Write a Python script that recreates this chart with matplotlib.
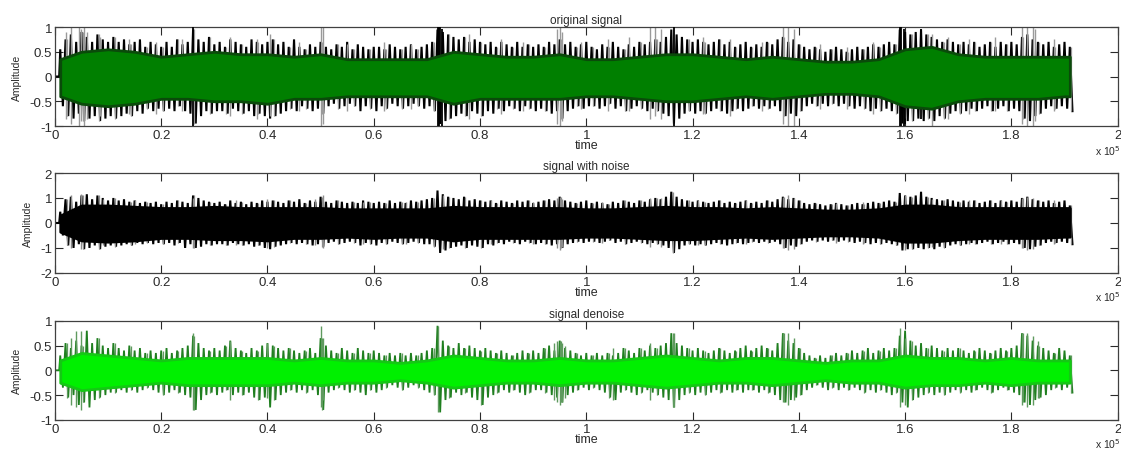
import numpy as np
import matplotlib
matplotlib.use('Agg')
import matplotlib.pyplot as plt
from matplotlib.ticker import FuncFormatter

plt.rcParams['font.family'] = ['Liberation Sans', 'DejaVu Sans']

# ---------------- data (time axis in units of 1e5 samples) ----------------
# peak envelope read every 0.01 (x1e5) from 0.01 to 1.91
peak_t = np.round(np.arange(1, 192) * 0.01, 2)

orig_peak_hi = [
    0.55, 0.75, 0.85, 0.7, 0.9, 0.8, 0.7, 0.85, 0.75, 0.7,
    0.8, 0.7, 0.75, 0.65, 0.7, 0.75, 0.6, 0.7, 0.65, 0.6,
    0.7, 0.6, 0.75, 0.65, 0.7, 0.95, 0.75, 0.7, 0.8, 0.65,
    0.7, 0.6, 0.75, 0.7, 0.65, 0.6, 0.75, 0.7, 0.65, 0.7,
    0.75, 0.65, 0.7, 0.6, 0.75, 0.6, 0.55, 0.65, 0.6, 0.7,
    0.6, 0.55, 0.65, 0.6, 0.7, 0.55, 0.65, 0.6, 0.55, 0.6,
    0.6, 0.55, 0.65, 0.6, 0.55, 0.6, 0.65, 0.55, 0.6, 0.65,
    0.7, 0.95, 0.9, 0.85, 0.8, 0.75, 0.8, 0.7, 0.75, 0.7,
    0.65, 0.7, 0.6, 0.7, 0.65, 0.6, 0.7, 0.6, 0.65, 0.6,
    0.65, 0.6, 0.7, 0.65, 0.75, 0.65, 0.7, 0.6, 0.65, 0.7,
    0.6, 0.55, 0.65, 0.6, 0.7, 0.6, 0.55, 0.65, 0.6, 0.7,
    0.65, 0.7, 0.75, 0.7, 0.8, 0.95, 0.85, 0.8, 0.75, 0.7,
    0.75, 0.7, 0.65, 0.7, 0.75, 0.65, 0.7, 0.6, 0.65, 0.7,
    0.6, 0.65, 0.6, 0.7, 0.65, 0.75, 0.8, 0.7, 0.75, 0.65,
    0.6, 0.55, 0.6, 0.55, 0.5, 0.55, 0.6, 0.55, 0.5, 0.55,
    0.6, 0.55, 0.6, 0.65, 0.6, 0.65, 0.7, 0.65, 0.95, 0.9,
    0.85, 0.9, 0.95, 0.85, 0.8, 0.75, 0.7, 0.75, 0.7, 0.65,
    0.7, 0.65, 0.7, 0.6, 0.65, 0.7, 0.6, 0.7, 0.65, 0.7,
    0.65, 0.8, 0.85, 0.75, 0.7, 0.65, 0.7, 0.6, 0.65, 0.7, 0.6]
orig_peak_lo = [
    -0.6, -0.8, -0.85, -0.75, -0.9, -0.85, -0.8, -0.9, -0.85, -0.8,
    -0.85, -0.8, -0.75, -0.8, -0.7, -0.75, -0.65, -0.7, -0.65, -0.7,
    -0.65, -0.7, -0.6, -0.7, -0.75, -0.95, -0.8, -0.7, -0.75, -0.7,
    -0.7, -0.75, -0.65, -0.7, -0.75, -0.7, -0.8, -0.75, -0.8, -0.85,
    -0.8, -0.75, -0.7, -0.65, -0.7, -0.6, -0.65, -0.7, -0.65, -0.75,
    -0.6, -0.55, -0.65, -0.6, -0.55, -0.6, -0.7, -0.6, -0.65, -0.7,
    -0.6, -0.65, -0.55, -0.6, -0.65, -0.6, -0.55, -0.6, -0.65, -0.6,
    -0.7, -0.95, -0.9, -0.85, -0.8, -0.75, -0.8, -0.7, -0.75, -0.8,
    -0.7, -0.75, -0.65, -0.7, -0.6, -0.65, -0.7, -0.6, -0.65, -0.7,
    -0.65, -0.7, -0.75, -0.7, -0.85, -0.7, -0.65, -0.6, -0.65, -0.6,
    -0.6, -0.65, -0.6, -0.55, -0.65, -0.6, -0.7, -0.65, -0.6, -0.65,
    -0.7, -0.65, -0.7, -0.75, -0.8, -0.95, -0.85, -0.75, -0.7, -0.75,
    -0.7, -0.75, -0.7, -0.65, -0.7, -0.75, -0.7, -0.65, -0.7, -0.65,
    -0.6, -0.65, -0.6, -0.65, -0.6, -0.7, -0.8, -0.75, -0.8, -0.7,
    -0.6, -0.55, -0.6, -0.55, -0.6, -0.55, -0.6, -0.55, -0.6, -0.65,
    -0.6, -0.65, -0.7, -0.65, -0.7, -0.65, -0.7, -0.75, -0.95, -0.9,
    -0.9, -0.85, -0.9, -0.85, -0.9, -0.8, -0.85, -0.75, -0.7, -0.75,
    -0.7, -0.65, -0.7, -0.65, -0.6, -0.7, -0.65, -0.6, -0.7, -0.65,
    -0.7, -0.85, -0.9, -0.8, -0.75, -0.65, -0.6, -0.65, -0.6, -0.65, -0.7]

noisy_peak_hi = [
    0.45, 0.95, 1.05, 0.85, 1.1, 1.15, 0.95, 1.1, 1.0, 0.9,
    1.0, 0.9, 0.95, 0.85, 0.9, 0.8, 0.85, 0.8, 0.85, 0.75,
    0.85, 0.8, 0.9, 0.85, 0.8, 1.1, 1.0, 0.9, 0.85, 0.8,
    0.85, 0.75, 0.9, 0.8, 0.85, 0.75, 0.85, 0.8, 0.9, 0.85,
    0.9, 0.85, 0.8, 0.9, 0.85, 0.95, 0.8, 0.9, 0.85, 1.05,
    0.85, 0.8, 0.9, 0.85, 0.8, 0.85, 0.8, 0.9, 0.85, 0.8,
    0.85, 0.8, 0.9, 0.8, 0.85, 0.8, 0.9, 0.85, 0.9, 0.95,
    1.0, 1.3, 1.15, 1.05, 1.0, 0.95, 1.05, 0.9, 0.95, 0.9,
    0.85, 0.9, 0.8, 0.9, 0.85, 0.8, 0.9, 0.85, 0.9, 0.8,
    0.85, 0.9, 0.95, 0.9, 1.05, 0.9, 0.85, 0.8, 0.85, 0.9,
    0.8, 0.85, 0.8, 0.75, 0.85, 0.8, 0.9, 0.85, 0.8, 0.9,
    0.85, 0.95, 1.0, 0.95, 1.05, 1.25, 1.05, 0.95, 0.9, 0.85,
    0.9, 0.85, 0.8, 0.85, 0.9, 0.8, 0.85, 0.8, 0.85, 0.9,
    0.8, 0.85, 0.8, 0.9, 0.85, 0.95, 1.05, 0.95, 1.0, 0.9,
    0.8, 0.75, 0.8, 0.75, 0.7, 0.75, 0.8, 0.75, 0.7, 0.75,
    0.8, 0.75, 0.8, 0.85, 0.8, 0.85, 0.9, 0.85, 1.2, 1.1,
    1.05, 1.1, 1.25, 1.05, 1.0, 0.95, 0.9, 0.95, 0.9, 0.85,
    0.9, 0.85, 0.9, 0.8, 0.85, 0.9, 0.8, 0.9, 0.85, 0.9,
    0.85, 1.0, 1.05, 0.95, 0.9, 0.85, 0.9, 0.8, 0.85, 0.9, 0.7]
noisy_peak_lo = [
    -0.5, -0.9, -1.0, -0.85, -1.05, -1.0, -0.9, -1.05, -0.95, -0.9,
    -0.95, -0.9, -0.85, -0.9, -0.8, -0.85, -0.8, -0.85, -0.8, -0.85,
    -0.8, -0.9, -0.8, -1.0, -0.85, -1.0, -0.95, -0.85, -0.9, -0.85,
    -0.85, -0.9, -0.8, -0.85, -0.9, -0.85, -0.95, -0.9, -1.0, -1.05,
    -0.95, -0.9, -0.85, -0.8, -0.85, -0.8, -0.85, -0.9, -0.85, -0.95,
    -0.8, -0.75, -0.85, -0.8, -0.75, -0.8, -0.9, -0.8, -0.85, -0.9,
    -0.8, -0.85, -0.75, -0.8, -0.85, -0.8, -0.75, -0.8, -0.85, -0.85,
    -0.95, -1.2, -1.1, -1.0, -0.95, -0.9, -1.0, -0.9, -0.95, -1.0,
    -0.85, -0.9, -0.8, -0.85, -0.75, -0.8, -0.85, -0.75, -0.8, -0.85,
    -0.8, -0.85, -0.9, -0.85, -1.0, -0.85, -0.8, -0.75, -0.8, -0.75,
    -0.75, -0.8, -0.75, -0.7, -0.8, -0.75, -0.85, -0.8, -0.75, -0.8,
    -0.85, -0.8, -0.85, -0.9, -1.0, -1.2, -1.05, -0.9, -0.85, -0.9,
    -0.85, -0.9, -0.85, -0.8, -0.85, -0.9, -0.85, -0.8, -0.85, -0.8,
    -0.75, -0.8, -0.75, -0.8, -0.75, -0.85, -1.0, -0.9, -0.95, -0.85,
    -0.75, -0.7, -0.75, -0.7, -0.75, -0.7, -0.75, -0.7, -0.75, -0.8,
    -0.75, -0.8, -0.85, -0.8, -0.85, -0.8, -0.85, -0.9, -1.1, -1.05,
    -1.05, -1.0, -1.05, -1.0, -1.05, -0.95, -1.0, -0.9, -0.85, -0.9,
    -0.85, -0.8, -0.85, -0.8, -0.75, -0.85, -0.8, -0.75, -0.85, -0.8,
    -0.85, -1.0, -1.05, -0.95, -0.9, -0.8, -0.75, -0.8, -0.75, -0.8, -0.85]

den_peak_hi = [
    0.3, 0.55, 0.45, 0.6, 0.5, 0.8, 0.55, 0.65, 0.5, 0.45,
    0.55, 0.45, 0.4, 0.5, 0.4, 0.45, 0.35, 0.4, 0.35, 0.4,
    0.45, 0.35, 0.4, 0.45, 0.5, 0.7, 0.55, 0.45, 0.4, 0.45,
    0.4, 0.5, 0.6, 0.45, 0.4, 0.35, 0.45, 0.4, 0.5, 0.55,
    0.5, 0.45, 0.4, 0.45, 0.4, 0.35, 0.4, 0.45, 0.35, 0.65,
    0.5, 0.4, 0.35, 0.45, 0.4, 0.35, 0.45, 0.4, 0.35, 0.4,
    0.35, 0.3, 0.35, 0.3, 0.35, 0.3, 0.35, 0.3, 0.35, 0.4,
    0.45, 0.9, 0.6, 0.5, 0.45, 0.55, 0.45, 0.5, 0.45, 0.4,
    0.45, 0.4, 0.35, 0.4, 0.35, 0.3, 0.35, 0.4, 0.35, 0.4,
    0.35, 0.45, 0.5, 0.4, 0.6, 0.45, 0.4, 0.35, 0.3, 0.35,
    0.3, 0.35, 0.3, 0.35, 0.3, 0.35, 0.45, 0.4, 0.35, 0.45,
    0.4, 0.5, 0.45, 0.5, 0.55, 0.75, 0.55, 0.5, 0.45, 0.4,
    0.45, 0.4, 0.35, 0.4, 0.45, 0.4, 0.35, 0.4, 0.45, 0.5,
    0.4, 0.45, 0.5, 0.45, 0.4, 0.55, 0.75, 0.6, 0.55, 0.45,
    0.35, 0.3, 0.25, 0.3, 0.25, 0.3, 0.35, 0.3, 0.35, 0.4,
    0.35, 0.4, 0.45, 0.35, 0.4, 0.45, 0.4, 0.45, 0.7, 0.8,
    0.6, 0.5, 0.55, 0.45, 0.5, 0.45, 0.4, 0.45, 0.4, 0.45,
    0.4, 0.35, 0.4, 0.45, 0.4, 0.35, 0.4, 0.45, 0.4, 0.45,
    0.5, 0.75, 0.7, 0.6, 0.5, 0.45, 0.4, 0.35, 0.45, 0.4, 0.3]
den_peak_lo = [
    -0.35, -0.55, -0.5, -0.7, -0.65, -0.75, -0.6, -0.55, -0.5, -0.45,
    -0.45, -0.4, -0.45, -0.4, -0.45, -0.4, -0.35, -0.4, -0.45, -0.5,
    -0.45, -0.4, -0.45, -0.5, -0.55, -0.8, -0.6, -0.5, -0.45, -0.5,
    -0.45, -0.4, -0.5, -0.45, -0.5, -0.45, -0.55, -0.6, -0.55, -0.75,
    -0.6, -0.5, -0.45, -0.4, -0.45, -0.4, -0.45, -0.4, -0.5, -0.8,
    -0.45, -0.4, -0.35, -0.4, -0.45, -0.4, -0.45, -0.5, -0.4, -0.45,
    -0.4, -0.35, -0.3, -0.35, -0.4, -0.35, -0.3, -0.35, -0.4, -0.45,
    -0.5, -0.85, -0.6, -0.55, -0.45, -0.5, -0.45, -0.55, -0.6, -0.7,
    -0.55, -0.5, -0.45, -0.4, -0.45, -0.4, -0.45, -0.5, -0.45, -0.4,
    -0.4, -0.45, -0.5, -0.55, -0.65, -0.5, -0.45, -0.4, -0.35, -0.4,
    -0.35, -0.4, -0.45, -0.55, -0.6, -0.45, -0.4, -0.45, -0.5, -0.45,
    -0.4, -0.45, -0.5, -0.55, -0.6, -0.75, -0.6, -0.5, -0.45, -0.5,
    -0.45, -0.5, -0.45, -0.4, -0.45, -0.4, -0.45, -0.4, -0.45, -0.4,
    -0.4, -0.45, -0.4, -0.45, -0.5, -0.6, -0.65, -0.6, -0.55, -0.5,
    -0.4, -0.35, -0.3, -0.35, -0.4, -0.35, -0.4, -0.35, -0.4, -0.35,
    -0.4, -0.45, -0.4, -0.45, -0.4, -0.45, -0.5, -0.45, -0.65, -0.75,
    -0.6, -0.55, -0.5, -0.45, -0.5, -0.45, -0.5, -0.45, -0.4, -0.45,
    -0.4, -0.45, -0.4, -0.35, -0.4, -0.45, -0.4, -0.35, -0.4, -0.45,
    -0.5, -0.65, -0.7, -0.6, -0.55, -0.5, -0.4, -0.35, -0.4, -0.35, -0.45]

# dense body envelope read every 0.05 (x1e5)
body_t = [0.01, 0.05, 0.10, 0.15, 0.20, 0.25, 0.30, 0.35, 0.40, 0.45,
          0.50, 0.55, 0.60, 0.65, 0.70, 0.75, 0.80, 0.85, 0.90, 0.95,
          1.00, 1.05, 1.10, 1.15, 1.20, 1.25, 1.30, 1.35, 1.40, 1.45,
          1.50, 1.55, 1.60, 1.65, 1.70, 1.75, 1.80, 1.85, 1.90, 1.91]
orig_body_hi = [0.35, 0.5, 0.55, 0.5, 0.4, 0.45, 0.5, 0.45, 0.45, 0.4,
                0.45, 0.35, 0.35, 0.35, 0.35, 0.5, 0.45, 0.4, 0.4, 0.45,
                0.35, 0.35, 0.4, 0.45, 0.45, 0.4, 0.35, 0.4, 0.35, 0.3,
                0.3, 0.35, 0.55, 0.6, 0.45, 0.4, 0.4, 0.4, 0.4, 0.4]
orig_body_lo = [-0.4, -0.55, -0.6, -0.55, -0.45, -0.45, -0.5, -0.5, -0.55, -0.45,
                -0.45, -0.4, -0.4, -0.4, -0.4, -0.55, -0.45, -0.45, -0.45, -0.45,
                -0.4, -0.4, -0.45, -0.5, -0.5, -0.45, -0.4, -0.45, -0.4, -0.35,
                -0.35, -0.4, -0.6, -0.65, -0.5, -0.45, -0.45, -0.45, -0.4, -0.4]
noisy_body_hi = [0.3, 0.7, 0.7, 0.65, 0.6, 0.6, 0.65, 0.6, 0.6, 0.6,
                 0.6, 0.55, 0.55, 0.55, 0.55, 0.65, 0.6, 0.6, 0.6, 0.6,
                 0.55, 0.55, 0.6, 0.65, 0.6, 0.6, 0.55, 0.6, 0.55, 0.5,
                 0.5, 0.55, 0.7, 0.7, 0.6, 0.6, 0.6, 0.6, 0.6, 0.6]
noisy_body_lo = [-0.35, -0.7, -0.75, -0.7, -0.6, -0.6, -0.65, -0.65, -0.7, -0.6,
                 -0.6, -0.55, -0.6, -0.55, -0.55, -0.7, -0.6, -0.6, -0.6, -0.6,
                 -0.55, -0.55, -0.6, -0.65, -0.65, -0.6, -0.55, -0.6, -0.55, -0.5,
                 -0.5, -0.55, -0.75, -0.75, -0.65, -0.6, -0.6, -0.6, -0.55, -0.55]
den_body_hi = [0.2, 0.35, 0.3, 0.25, 0.2, 0.25, 0.25, 0.25, 0.25, 0.2,
               0.25, 0.2, 0.2, 0.15, 0.2, 0.3, 0.25, 0.2, 0.2, 0.25,
               0.2, 0.2, 0.25, 0.3, 0.25, 0.2, 0.25, 0.25, 0.2, 0.15,
               0.2, 0.2, 0.3, 0.25, 0.25, 0.2, 0.25, 0.2, 0.2, 0.2]
den_body_lo = [-0.25, -0.4, -0.35, -0.3, -0.25, -0.3, -0.3, -0.3, -0.3, -0.25,
               -0.3, -0.25, -0.25, -0.2, -0.25, -0.35, -0.3, -0.25, -0.25, -0.3,
               -0.25, -0.25, -0.3, -0.35, -0.3, -0.25, -0.25, -0.3, -0.25, -0.2,
               -0.25, -0.25, -0.35, -0.3, -0.3, -0.25, -0.3, -0.25, -0.25, -0.25]

# isolated tall spikes (light grey in the picture)
orig_spk_t = [0.02, 0.03, 0.045, 0.05, 0.055, 0.06, 0.085, 0.14, 0.19, 0.24, 0.33, 0.38,
              0.405, 0.46, 0.50, 0.505, 0.55, 0.62, 0.67, 0.78, 0.84, 0.88, 0.945, 0.95,
              0.955, 0.99, 1.04, 1.08, 1.12, 1.13, 1.14, 1.22, 1.27, 1.33, 1.37, 1.38,
              1.39, 1.44, 1.49, 1.54, 1.65, 1.68, 1.72, 1.77, 1.82, 1.83, 1.84, 1.845, 1.88]
orig_spk_hi = [0.9, 1.0, 1.0, 0.95, 1.0, 0.9, 0.8, 0.75, 0.7, 0.75, 0.8, 0.75,
               0.85, 0.7, 1.0, 1.0, 0.65, 0.7, 0.65, 0.85, 0.75, 0.7, 0.95, 1.0,
               0.9, 0.7, 0.75, 0.8, 1.0, 1.0, 0.95, 0.8, 0.75, 0.7, 1.0, 1.0,
               0.95, 0.65, 0.6, 0.7, 0.85, 0.8, 0.75, 0.8, 1.0, 1.0, 1.0, 0.95, 0.75]
orig_spk_lo = [-0.85, -0.95, -1.0, -0.9, -1.0, -0.85, -0.8, -0.75, -0.75, -0.7, -0.8, -0.85,
               -0.8, -0.7, -1.0, -0.95, -0.7, -0.7, -0.65, -0.85, -0.75, -0.7, -0.95, -1.0,
               -0.9, -0.65, -0.7, -0.7, -0.85, -0.8, -0.85, -0.75, -0.8, -0.7, -0.95, -1.0,
               -1.0, -0.65, -0.65, -0.75, -1.0, -0.85, -0.75, -0.7, -0.95, -1.0, -1.0, -0.9, -0.7]
orig_blk_t = [0.26, 0.72, 0.722, 0.725, 0.728, 1.165, 1.59, 1.593, 1.597, 1.60, 1.63]
orig_blk_hi = [1.0, 1.0, 1.0, 1.0, 0.95, 1.0, 1.0, 1.0, 0.95, 0.9, 0.95]
orig_blk_lo = [-1.0, -1.0, -1.0, -0.95, -1.0, -1.0, -1.0, -1.0, -1.0, -0.95, -0.85]

noisy_spk_t = [0.03, 0.05, 0.09, 0.15, 0.26, 0.34, 0.40, 0.49, 0.505, 0.58, 0.66, 0.73,
               0.82, 0.90, 0.945, 0.95, 0.955, 1.03, 1.12, 1.14, 1.21, 1.30, 1.37, 1.38,
               1.39, 1.47, 1.52, 1.60, 1.65, 1.72, 1.78, 1.82, 1.83, 1.84, 1.88]
noisy_spk_hi = [1.1, 1.15, 0.95, 0.9, 1.0, 0.9, 0.95, 0.95, 1.1, 0.85, 0.85, 1.1,
                0.9, 0.85, 1.0, 1.05, 0.95, 0.85, 1.0, 1.0, 0.9, 0.9, 1.05, 1.1,
                1.0, 0.8, 0.85, 1.1, 0.95, 0.9, 0.9, 1.0, 1.05, 1.0, 0.9]
noisy_spk_lo = [-1.0, -1.05, -0.9, -0.85, -1.0, -0.9, -1.0, -0.9, -1.0, -0.85, -0.85, -1.05,
                -0.85, -0.85, -1.0, -1.1, -0.95, -0.8, -0.95, -0.95, -0.9, -0.85, -1.0, -1.1,
                -1.05, -0.8, -0.85, -1.1, -0.95, -0.85, -0.85, -1.0, -1.1, -1.05, -0.85]

den_spk_t = [0.03, 0.04, 0.05, 0.26, 0.33, 0.40, 0.50, 0.505, 0.72, 0.94, 0.945, 0.95,
             0.955, 0.96, 1.05, 1.12, 1.165, 1.37, 1.38, 1.39, 1.59, 1.60, 1.82, 1.83,
             1.84, 1.85]
den_spk_hi = [0.65, 0.8, 0.8, 0.75, 0.6, 0.55, 0.9, 0.65, 0.9, 0.55, 0.6, 0.6,
              0.55, 0.5, 0.45, 0.55, 0.75, 0.75, 0.75, 0.65, 0.85, 0.65, 0.75, 0.75,
              0.7, 0.6]
den_spk_lo = [-0.7, -0.75, -0.8, -0.8, -0.6, -0.55, -0.75, -0.6, -0.85, -0.6, -0.65, -0.7,
              -0.65, -0.55, -0.6, -0.6, -0.75, -0.65, -0.7, -0.6, -0.75, -0.7, -0.7, -0.75,
              -0.7, -0.55]

panel_titles = ['original signal', 'signal with noise', 'signal denoise']
y_limits = [(-1, 1), (-2, 2), (-1, 1)]
y_ticks = [[-1, -0.5, 0, 0.5, 1], [-2, -1, 0, 1, 2], [-1, -0.5, 0, 0.5, 1]]
x_ticks = [0, 0.2, 0.4, 0.6, 0.8, 1.0, 1.2, 1.4, 1.6, 1.8, 2.0]

# ---------------- drawing ----------------
fig = plt.figure(figsize=(11.21, 4.52), dpi=100)
positions = [[0.049, 0.719, 0.948, 0.219],
             [0.049, 0.394, 0.948, 0.221],
             [0.049, 0.069, 0.948, 0.219]]

panels = [
    dict(phi=orig_peak_hi, plo=orig_peak_lo, bhi=orig_body_hi, blo=orig_body_lo,
         st=orig_spk_t, sh=orig_spk_hi, sl=orig_spk_lo,
         edge='#000000', body='#007f00', rim='#0a4a0a', spike='#9a9a9a', lw=1.5),
    dict(phi=noisy_peak_hi, plo=noisy_peak_lo, bhi=noisy_body_hi, blo=noisy_body_lo,
         st=noisy_spk_t, sh=noisy_spk_hi, sl=noisy_spk_lo,
         edge='#000000', body='#000000', rim='#000000', spike='#8c8c8c', lw=1.5),
    dict(phi=den_peak_hi, plo=den_peak_lo, bhi=den_body_hi, blo=den_body_lo,
         st=den_spk_t, sh=den_spk_hi, sl=den_spk_lo,
         edge='#1f7f1f', body='#00f000', rim='#14c814', spike='#5f9a5f', lw=1.3),
]

fmt = FuncFormatter(lambda v, p: '%g' % v)
txt = '#2a2a2a'

for i, (pos, pan) in enumerate(zip(positions, panels)):
    ax = fig.add_axes(pos)
    # dense trace drawn as a zig-zag through the read peak envelope
    xz = np.concatenate([[0.0, 0.008], np.ravel(np.column_stack([peak_t, peak_t + 0.005]))])
    yz = np.concatenate([[0.0, 0.0], np.ravel(np.column_stack([pan['phi'], pan['plo']]))])
    ax.plot(xz, yz, color=pan['edge'], lw=pan['lw'], zorder=2, solid_joinstyle='miter')
    # lighter strokes mixed in the trace (every third sample)
    ax.vlines(peak_t[1::3] + 0.0025, np.array(pan['plo'])[1::3],
              np.array(pan['phi'])[1::3], color=pan['spike'], lw=0.9, zorder=2.2)
    ax.vlines(pan['st'], pan['sl'], pan['sh'], color=pan['spike'], lw=1.0, zorder=2.5)
    if i == 0:
        ax.vlines(orig_blk_t, orig_blk_lo, orig_blk_hi, color='k', lw=1.3, zorder=2.6)
    ax.fill_between(body_t, pan['blo'], pan['bhi'], facecolor=pan['body'],
                    edgecolor=pan['rim'], lw=2.0, zorder=3)

    ax.set_xlim(0, 2)
    ax.set_ylim(*y_limits[i])
    ax.set_xticks(x_ticks)
    ax.set_yticks(y_ticks[i])
    ax.xaxis.set_major_formatter(fmt)
    ax.yaxis.set_major_formatter(fmt)
    ax.tick_params(direction='in', length=6, width=0.8, top=True, right=True,
                   labelsize=9.5, colors=txt, pad=2)
    for s in ax.spines.values():
        s.set_color('#404040')
        s.set_linewidth(0.9)
    ax.set_title(panel_titles[i], fontsize=8.5, color=txt, pad=3)
    ax.set_xlabel('time', fontsize=9, color=txt, labelpad=-1)
    ax.set_ylabel('Amplitude', fontsize=7.5, color=txt, labelpad=5)
    ax.annotate(r'x 10$^5$', xy=(1.0, 0), xycoords='axes fraction',
                xytext=(2, -17), textcoords='offset points', ha='right', va='center',
                fontsize=7.5, color=txt)

fig.savefig('out.png', dpi=100)
